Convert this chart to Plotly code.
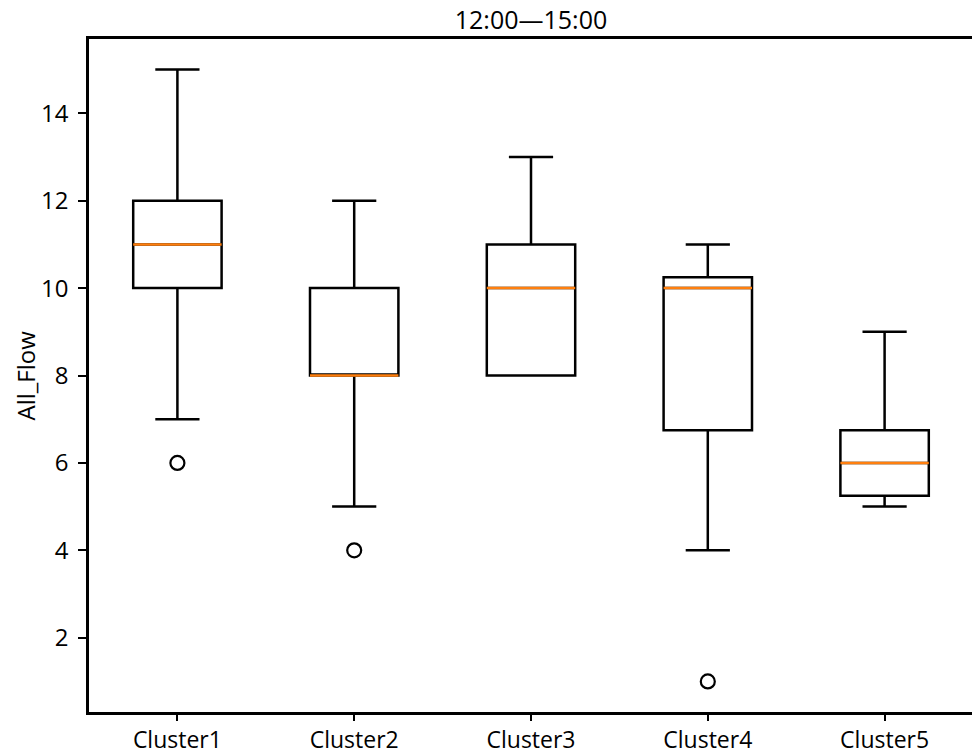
import plotly.graph_objects as go

categories = ["Cluster1", "Cluster2", "Cluster3", "Cluster4", "Cluster5"]
positions = [1, 2, 3, 4, 5]
q1 = [10, 8, 8, 6.75, 5.25]
median = [11, 8, 10, 10, 6]
q3 = [12, 10, 11, 10.25, 6.75]
lower_whisker = [7, 5, 8, 4, 5]
upper_whisker = [15, 12, 13, 11, 9]
outlier_x = [1, 2, 4]
outlier_y = [6, 4, 1]
y_ticks = [2, 4, 6, 8, 10, 12, 14]

FONT = "Open Sans"
BOX_W = 0.5
OFF = 8  # page body margin offset

W, H = 980, 756
PL, PT, PR, PB = 89, 39, 973, 712   # plot area edges in window pixels
L, T, R, B = PL - OFF, PT - OFF, W - PR + OFF, H - PB + OFF

fig = go.Figure()
for i, cat in enumerate(categories):
    fig.add_trace(go.Box(
        x=[positions[i]], q1=[q1[i]], median=[median[i]], q3=[q3[i]],
        lowerfence=[lower_whisker[i]], upperfence=[upper_whisker[i]],
        width=BOX_W, whiskerwidth=0.5,
        line=dict(color="black", width=2.5), fillcolor="rgba(0,0,0,0)",
        boxpoints=False, showlegend=False, name=cat,
    ))

# orange median lines over the boxes
mx, my = [], []
for i in range(len(categories)):
    mx += [positions[i] - BOX_W / 2, positions[i] + BOX_W / 2, None]
    my += [median[i], median[i], None]
fig.add_trace(go.Scatter(x=mx, y=my, mode="lines",
                         line=dict(color="#ff7f0e", width=2.5),
                         showlegend=False, hoverinfo="skip"))

fig.add_trace(go.Scatter(x=outlier_x, y=outlier_y, mode="markers",
                         marker=dict(symbol="circle-open", size=14,
                                     color="black", line=dict(width=2.2)),
                         showlegend=False))

fig.add_annotation(text="All_Flow", xref="paper", yref="paper",
                   x=(25 - PL) / (PR - PL), y=0.5, textangle=-90,
                   xanchor="center", yanchor="middle", showarrow=False,
                   font=dict(family=FONT, size=24, color="black"))

fig.update_layout(
    width=W, height=H,
    margin=dict(l=L, r=R, t=T, b=B),
    paper_bgcolor="white", plot_bgcolor="white",
    font=dict(family=FONT, size=24, color="black"),
    title=dict(text="12:00—15:00", x=(L + (W - R)) / 2 / W, xanchor="center",
               yref="container", y=1, yanchor="top", pad=dict(t=3, b=0),
               font=dict(family=FONT, size=25, color="black")),
    xaxis=dict(range=[0.5, 5.5], tickvals=positions, ticktext=categories,
               showgrid=False, zeroline=False, showline=True, mirror=True,
               linecolor="black", linewidth=2.5, ticks="outside", ticklen=6,
               tickwidth=2, tickcolor="black", automargin=False,
               tickfont=dict(family=FONT, size=23)),
    yaxis=dict(range=[0.3, 15.7], tickvals=y_ticks,
               showgrid=False, zeroline=False, showline=True, mirror=True,
               linecolor="black", linewidth=2.5, ticks="outside", ticklen=8,
               tickwidth=2, tickcolor="black", ticklabelstandoff=5,
               automargin=False),
)

fig.write_html("out.html")
